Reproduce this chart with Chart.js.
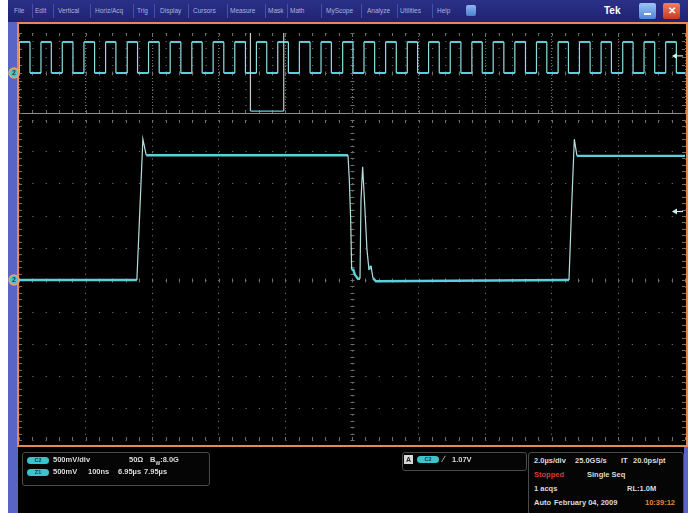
<!DOCTYPE html>
<html>
<head>
<meta charset="utf-8">
<script src="https://cdn.jsdelivr.net/npm/chart.js@4.4.0/dist/chart.umd.min.js"></script>
<style>
  body { margin: 0; width: 696px; height: 513px; background: #fff; overflow: hidden; font-family: "Liberation Sans", Arial, sans-serif; }
  #screen { position: absolute; left: 8px; top: 0; width: 680px; height: 513px; background: #000; }
  #menubar { position: absolute; left: 0; top: 0; width: 680px; height: 22px; background: linear-gradient(#2c3188, #1e2272); }
  .menu { position: absolute; top: 7px; font-size: 6.5px; color: #aab3de; }
  .sep { position: absolute; top: 4px; width: 1px; height: 14px; background: #4850a6; }
  #leftbar { position: absolute; left: 0; top: 22px; width: 10px; height: 491px; background: #5a64c6; }
  #rightbar { position: absolute; left: 676px; top: 447px; width: 4px; height: 66px; background: #5a64c6; }
  #frame { position: absolute; left: 9px; top: 22px; width: 671px; height: 425px; border: 2px solid #e38b50; box-sizing: border-box; }
  canvas { position: absolute; }
  .box { position: absolute; border: 1px solid #4a4a4a; border-radius: 3px; background: #050505; }
  .t { position: absolute; font-size: 7.5px; font-weight: bold; color: #dcdcdc; white-space: nowrap; }
  .pill { position: absolute; width: 22px; height: 7px; border-radius: 4px; background: #3cc3cc; color: #0a3a40; font-size: 5.5px; font-weight: bold; text-align: center; line-height: 7px; }
</style>
</head>
<body>
<div id="screen">
  <div id="menubar">
    <span class="menu" style="left:6px">File</span><div class="sep" style="left:24px"></div>
    <span class="menu" style="left:27px">Edit</span><div class="sep" style="left:45px"></div>
    <span class="menu" style="left:50px">Vertical</span><div class="sep" style="left:82px"></div>
    <span class="menu" style="left:87px">Horiz/Acq</span><div class="sep" style="left:125px"></div>
    <span class="menu" style="left:129px">Trig</span><div class="sep" style="left:146px"></div>
    <span class="menu" style="left:152px">Display</span><div class="sep" style="left:180px"></div>
    <span class="menu" style="left:185px">Cursors</span><div class="sep" style="left:219px"></div>
    <span class="menu" style="left:222px">Measure</span><div class="sep" style="left:257px"></div>
    <span class="menu" style="left:260px">Mask</span><div class="sep" style="left:279px"></div>
    <span class="menu" style="left:282px">Math</span><div class="sep" style="left:313px"></div>
    <span class="menu" style="left:318px">MyScope</span><div class="sep" style="left:353px"></div>
    <span class="menu" style="left:359px">Analyze</span><div class="sep" style="left:389px"></div>
    <span class="menu" style="left:392px">Utilities</span><div class="sep" style="left:424px"></div>
    <span class="menu" style="left:429px">Help</span>
    <div style="position:absolute;left:458px;top:5px;width:10px;height:11px;border-radius:2px;background:linear-gradient(#8fb6ee,#4a7fd0)"></div>
    <span style="position:absolute;left:596px;top:5px;font-size:10px;font-weight:bold;color:#fff">Tek</span>
    <div style="position:absolute;left:631px;top:3px;width:17px;height:16px;border-radius:2px;background:linear-gradient(#9cc4f4,#4f86d8)"><div style="position:absolute;left:5px;top:10px;width:7px;height:2px;background:#fff"></div></div>
    <div style="position:absolute;left:655px;top:3px;width:17px;height:16px;border-radius:2px;background:linear-gradient(#f08060,#c83a20);color:#fff;font-size:10px;font-weight:bold;text-align:center;line-height:16px">✕</div>
  </div>
  <div id="leftbar"></div>
  <div id="rightbar"></div>
  <div id="frame"></div>
  <canvas id="topChart" width="680" height="94" style="left:0;top:24px"></canvas>
  <canvas id="mainChart" width="680" height="328" style="left:0;top:116px"></canvas>

  <div class="box" style="left:14px;top:452px;width:186px;height:32px"></div>
  <div class="pill" style="left:19px;top:457px">C2</div>
  <span class="t" style="left:45px;top:455px">500mV/div</span>
  <span class="t" style="left:121px;top:455px">50Ω</span>
  <span class="t" style="left:142px;top:455px">B<sub style="font-size:5px">W</sub>:8.0G</span>
  <div class="pill" style="left:19px;top:469px">Z1</div>
  <span class="t" style="left:45px;top:467px">500mV</span>
  <span class="t" style="left:80px;top:467px">100ns</span>
  <span class="t" style="left:110px;top:467px">6.95µs</span>
  <span class="t" style="left:136px;top:467px">7.95µs</span>

  <div class="box" style="left:394px;top:452px;width:123px;height:17px"></div>
  <div style="position:absolute;left:396px;top:455px;width:9px;height:9px;background:#d8d8d8;color:#222;font-size:7px;font-weight:bold;line-height:9px;text-align:center">A</div>
  <div class="pill" style="left:409px;top:456px">C2</div>
  <span class="t" style="left:435px;top:454px;font-size:9px;font-weight:normal">∕</span>
  <span class="t" style="left:444px;top:455px">1.07V</span>

  <div class="box" style="left:520px;top:452px;width:154px;height:70px"></div>
  <span class="t" style="left:526px;top:456px">2.0µs/div</span>
  <span class="t" style="left:567px;top:456px">25.0GS/s</span>
  <span class="t" style="left:613px;top:456px">IT</span>
  <span class="t" style="left:625px;top:456px">20.0ps/pt</span>
  <span class="t" style="left:526px;top:470px;color:#d83a3a">Stopped</span>
  <span class="t" style="left:579px;top:470px">Single Seq</span>
  <span class="t" style="left:526px;top:484px">1 acqs</span>
  <span class="t" style="left:619px;top:484px">RL:1.0M</span>
  <span class="t" style="left:526px;top:498px">Auto</span>
  <span class="t" style="left:546px;top:498px">February 04, 2009</span>
  <span class="t" style="left:637px;top:498px;color:#e08a3a">10:39:12</span>
</div>

<script>
// record: 10 div x 2.0us, zoom window 100ns/div
const recordLen = 20;          // us
const zoomStart = 6.95;        // us
const zoomEnd = 7.95;          // us
const trigLevel = 1.07;        // V
const voltsRange = [-2.5, 2.5]; // 500mV/div, 10 div

// ch2 full record (top window): pulse edges, us
const pulseRise = [0.01, 0.66, 1.30, 1.95, 2.60, 3.25, 3.89, 4.54, 5.19, 5.83, 6.48, 7.13, 7.77, 8.42, 9.07, 9.72,
  10.36, 11.01, 11.66, 12.30, 12.95, 13.60, 14.24, 14.89, 15.54, 16.19, 16.83, 17.48, 18.13, 18.77, 19.42];
const pulseFall = [0.33, 0.97, 1.62, 2.27, 2.91, 3.56, 4.21, 4.86, 5.50, 6.15, 6.80, 7.44, 8.09, 8.74, 9.38, 10.03,
  10.68, 11.33, 11.97, 12.62, 13.27, 13.91, 14.56, 15.21, 15.85, 16.50, 17.15, 17.79, 18.44, 19.09, 19.74];
const pulseLevels = [0, 1.94]; // low, high (V)

// ch2 zoom trace (main window)
const mainTime = [6.95, 7.127, 7.136, 7.141, 7.444, 7.446, 7.448, 7.4495, 7.452, 7.4545, 7.459, 7.462, 7.4635,
  7.466, 7.4695, 7.4725, 7.4755, 7.4785, 7.4815, 7.486, 7.7758, 7.7796, 7.7838, 7.7878, 7.95];
const mainVolts = [0, 0, 2.20, 1.95, 1.95, 1.56, 0.94, 0.16, 0.16, 0.08, 0.02, 0.02, 1.25,
  1.77, 1.09, 0.47, 0.16, 0.22, 0.03, -0.02, 0, 1.09, 2.20, 1.94, 1.94];

const traceColor = '#5ccfd8';
const gridColor = '#6e6e6e';

// 10 divisions on every axis
function divTicks(axis) {
  const step = (axis.max - axis.min) / 10;
  axis.ticks = [];
  for (let i = 0; i <= 10; i++) axis.ticks.push({ value: axis.min + i * step });
}

// minor ticks on edges and center cross
function graticulePlugin(yMinor) {
  return {
    id: 'graticule',
    beforeDatasetsDraw(chart) {
      const { ctx, chartArea: a, scales: { x, y } } = chart;
      const cx = Math.round(x.getPixelForValue((x.min + x.max) / 2)) + 0.5;
      const cy = Math.round(y.getPixelForValue(0)) + 0.5;
      ctx.save();
      ctx.strokeStyle = gridColor;
      ctx.lineWidth = 1;
      ctx.beginPath();
      for (let i = 0; i <= 50; i++) {
        const px = Math.round(x.getPixelForValue(x.min + (x.max - x.min) * i / 50)) + 0.5;
        ctx.moveTo(px, a.top); ctx.lineTo(px, a.top + 3);
        ctx.moveTo(px, a.bottom); ctx.lineTo(px, a.bottom - 3);
        ctx.moveTo(px, cy - 2); ctx.lineTo(px, cy + 2);
      }
      for (let i = 0; i <= yMinor; i++) {
        const py = Math.round(y.getPixelForValue(y.min + (y.max - y.min) * i / yMinor)) + 0.5;
        ctx.moveTo(a.left, py); ctx.lineTo(a.left + 3, py);
        ctx.moveTo(a.right, py); ctx.lineTo(a.right - 3, py);
        ctx.moveTo(cx - 2, py); ctx.lineTo(cx + 2, py);
      }
      ctx.stroke();
      ctx.restore();
    }
  };
}

// ch2 ground marker on the left, trigger level arrow on the right
const markerPlugin = {
  id: 'markers',
  afterDraw(chart) {
    const { ctx, chartArea: a, scales: { y } } = chart;
    const gy = y.getPixelForValue(0);
    ctx.save();
    ctx.beginPath();
    ctx.arc(a.left - 5, gy, 5, 0, Math.PI * 2);
    ctx.fillStyle = '#48c8d2';
    ctx.fill();
    ctx.lineWidth = 1.5;
    ctx.strokeStyle = '#f0a25a';
    ctx.stroke();
    ctx.fillStyle = '#0b3c44';
    ctx.font = 'bold 7px "Liberation Sans"';
    ctx.textAlign = 'center';
    ctx.textBaseline = 'middle';
    ctx.fillText('2', a.left - 5, gy + 0.5);

    const ty = y.getPixelForValue(trigLevel);
    ctx.strokeStyle = '#cdeeee';
    ctx.fillStyle = '#cdeeee';
    ctx.lineWidth = 1.2;
    ctx.beginPath();
    ctx.moveTo(a.right - 12, ty); ctx.lineTo(a.right - 2, ty);
    ctx.stroke();
    ctx.beginPath();
    ctx.moveTo(a.right - 13, ty); ctx.lineTo(a.right - 8, ty - 3); ctx.lineTo(a.right - 8, ty + 3);
    ctx.closePath();
    ctx.fill();
    ctx.restore();
  }
};

// steep edges are drawn thin and pale like on the scope
const isEdge = c => Math.abs(c.p1.y - c.p0.y) > 3 * Math.abs(c.p1.x - c.p0.x) + 4;

function scaleOpts(min, max, dash, solidBorder) {
  return {
    type: 'linear',
    min: min,
    max: max,
    afterBuildTicks: divTicks,
    ticks: { display: false },
    grid: { color: gridColor, lineWidth: 1, drawTicks: false },
    border: solidBorder ? { display: true, color: '#909090', width: 1, dash: dash }
                        : { display: false, dash: dash }
  };
}

// top window: whole record
const topPts = [{ x: 0, y: pulseLevels[0] }];
pulseRise.forEach((r, i) => {
  topPts.push({ x: r, y: pulseLevels[0] }, { x: r, y: pulseLevels[1] },
              { x: pulseFall[i], y: pulseLevels[1] }, { x: pulseFall[i], y: pulseLevels[0] });
});
topPts.push({ x: recordLen, y: pulseLevels[0] });

const bracketPts = [
  { x: zoomStart, y: voltsRange[1] }, { x: zoomStart, y: -2.38 },
  { x: zoomEnd, y: -2.38 }, { x: zoomEnd, y: voltsRange[1] }
];

new Chart(document.getElementById('topChart'), {
  type: 'line',
  data: {
    datasets: [
      {
        data: bracketPts,
        borderWidth: 1.2,
        borderColor: '#c4cccc',
        segment: { borderColor: c => (c.p0.y === c.p1.y ? traceColor : '#c4cccc') },
        pointRadius: 0
      },
      {
        data: topPts,
        borderColor: traceColor,
        borderWidth: 2,
        segment: { borderWidth: c => (isEdge(c) ? 1.2 : 2), borderColor: c => (isEdge(c) ? '#8fdde2' : traceColor) },
        pointRadius: 0
      }
    ]
  },
  options: {
    responsive: false,
    animation: false,
    layout: { padding: { left: 11, right: 3, top: 9, bottom: 5 } },
    plugins: { legend: { display: false }, tooltip: { enabled: false } },
    elements: { line: { tension: 0 } },
    scales: {
      x: scaleOpts(0, recordLen, [1, 2], true),
      y: scaleOpts(voltsRange[0], voltsRange[1], [1.2, 12.12], false)
    }
  },
  plugins: [graticulePlugin(10), markerPlugin]
});

// main window: zoomed region
new Chart(document.getElementById('mainChart'), {
  type: 'line',
  data: {
    datasets: [{
      data: mainTime.map((t, i) => ({ x: t, y: mainVolts[i] })),
      borderColor: traceColor,
      borderWidth: 2.4,
      segment: { borderWidth: c => (isEdge(c) ? 1.2 : 2.4), borderColor: c => (isEdge(c) ? '#b4dede' : traceColor) },
      pointRadius: 0
    }]
  },
  options: {
    responsive: false,
    animation: false,
    layout: { padding: { left: 11, right: 3, top: 4, bottom: 4 } },
    plugins: { legend: { display: false }, tooltip: { enabled: false } },
    elements: { line: { tension: 0 } },
    scales: {
      x: scaleOpts(zoomStart, zoomEnd, [1.2, 5.2], false),
      y: scaleOpts(voltsRange[0], voltsRange[1], [1.2, 12.12], false)
    }
  },
  plugins: [graticulePlugin(50), markerPlugin]
});
</script>
</body>
</html>
